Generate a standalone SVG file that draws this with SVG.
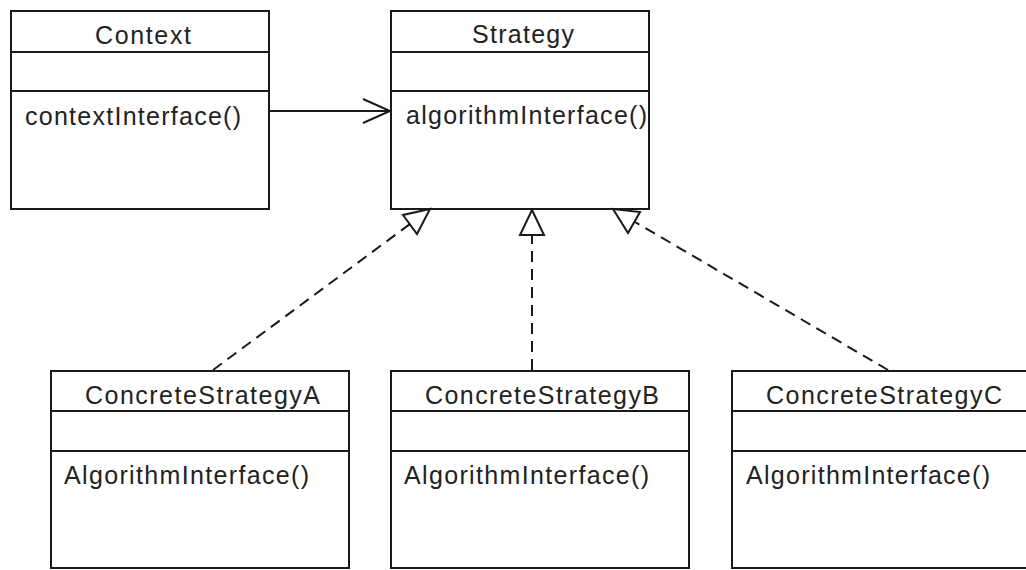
<svg xmlns="http://www.w3.org/2000/svg" width="1026" height="570" viewBox="0 0 1026 570">
<style>
.box{fill:#ffffff;stroke:#1a1a1a;stroke-width:2}
.div{stroke:#1a1a1a;stroke-width:2}
.t{font-family:"Liberation Sans",Arial,sans-serif;font-size:25px;fill:#222222}
.dash{fill:none;stroke:#1a1a1a;stroke-width:2;stroke-dasharray:11,7}
.solid{fill:none;stroke:#1a1a1a;stroke-width:2}
.tri{fill:#ffffff;stroke:#1a1a1a;stroke-width:2;stroke-linejoin:miter}
</style>
<rect x="0" y="0" width="1026" height="570" fill="#ffffff"/>
<g id="Context">
<rect class="box" x="11" y="11" width="258" height="198"/>
<line class="div" x1="11" y1="52" x2="269" y2="52"/>
<line class="div" x1="11" y1="91" x2="269" y2="91"/>
<text class="t" x="95" y="44" textLength="96" lengthAdjust="spacing">Context</text>
<text class="t" x="25" y="125" textLength="216" lengthAdjust="spacing">contextInterface()</text>
</g>
<g id="Strategy">
<rect class="box" x="391" y="11" width="258" height="198"/>
<line class="div" x1="391" y1="52" x2="649" y2="52"/>
<line class="div" x1="391" y1="91" x2="649" y2="91"/>
<text class="t" x="472" y="43" textLength="102" lengthAdjust="spacing">Strategy</text>
<text class="t" x="406" y="124" textLength="241" lengthAdjust="spacing">algorithmInterface()</text>
</g>
<g id="ConcreteStrategyA">
<rect class="box" x="51" y="371" width="298" height="197"/>
<line class="div" x1="51" y1="411" x2="349" y2="411"/>
<line class="div" x1="51" y1="451" x2="349" y2="451"/>
<text class="t" x="85" y="404" textLength="235" lengthAdjust="spacing">ConcreteStrategyA</text>
<text class="t" x="64" y="484" textLength="245" lengthAdjust="spacing">AlgorithmInterface()</text>
</g>
<g id="ConcreteStrategyB">
<rect class="box" x="391" y="371" width="298" height="197"/>
<line class="div" x1="391" y1="411" x2="689" y2="411"/>
<line class="div" x1="391" y1="451" x2="689" y2="451"/>
<text class="t" x="425" y="404" textLength="234" lengthAdjust="spacing">ConcreteStrategyB</text>
<text class="t" x="404" y="484" textLength="245" lengthAdjust="spacing">AlgorithmInterface()</text>
</g>
<g id="ConcreteStrategyC">
<rect class="box" x="732" y="371" width="300" height="197"/>
<line class="div" x1="732" y1="411" x2="1032" y2="411"/>
<line class="div" x1="732" y1="451" x2="1032" y2="451"/>
<text class="t" x="766" y="404" textLength="236" lengthAdjust="spacing">ConcreteStrategyC</text>
<text class="t" x="746" y="484" textLength="244" lengthAdjust="spacing">AlgorithmInterface()</text>
</g>
<g id="connectors">
<line class="solid" x1="270" y1="111" x2="390" y2="111"/>
<polyline class="solid" points="363,99 390,111 363,123"/>
<line class="dash" x1="213" y1="370" x2="410" y2="224"/>
<polygon class="tri" points="430,209 417,234 403,215"/>
<line class="dash" x1="532" y1="370" x2="532" y2="235"/>
<polygon class="tri" points="532,210 544,235 520,235"/>
<line class="dash" x1="888" y1="370" x2="635" y2="222"/>
<polygon class="tri" points="613,209 640,212 628,233"/>
</g>
</svg>
